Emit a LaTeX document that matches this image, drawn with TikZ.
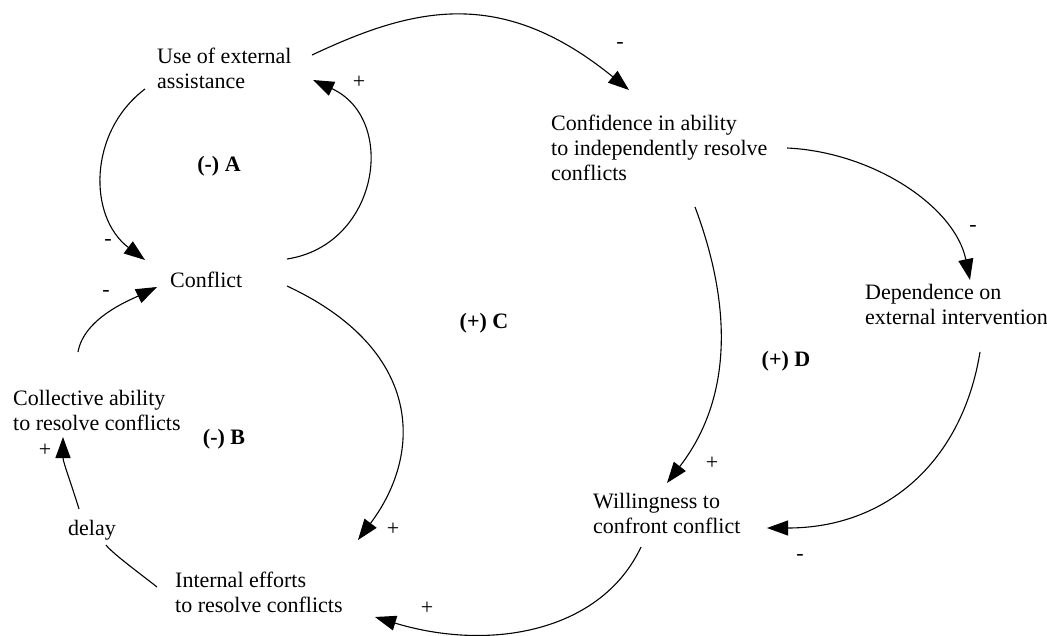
\documentclass[tikz,border=0pt]{standalone}
\usepackage{fontspec}
\setmainfont{Liberation Serif}
\usetikzlibrary{arrows.meta}
\tikzset{
    var/.style = {anchor=base west, align=left, inner sep=0pt, font=\fontsize{22}{25}\selectfont},
    sign/.style = {inner sep=0pt, font=\fontsize{22}{25}\selectfont},
    loopname/.style = {anchor=base, inner sep=0pt, font=\fontsize{22}{25}\selectfont\bfseries},
    link/.style = {-{Triangle[length=21pt, width=15pt]}, line width=1.1pt},
}

\begin{document}
\begin{tikzpicture}[x=1pt, y=-1pt]
    \useasboundingbox (0,0) rectangle (1047,635);

    \node[var] (use) at (157,88) {Use of external\\assistance};
    \node[var] (conflict) at (170,287) {Conflict};
    \node[var] (coll) at (13,430) {Collective ability\\to resolve conflicts};
    \node[var] (internal) at (175,612) {Internal efforts\\to resolve conflicts};
    \node[var] (delay) at (68,535) {delay};
    \node[var] (conf) at (551,180) {Confidence in ability\\to independently resolve\\conflicts};
    \node[var] (dep) at (865,324) {Dependence on\\external intervention};
    \node[var] (will) at (593,533) {Willingness to\\confront conflict};

    \node[loopname] (loopA) at (219,171) {(-) A};
    \node[loopname] (loopB) at (224,444) {(-) B};
    \node[loopname] (loopC) at (484,328) {(+) C};
    \node[loopname] (loopD) at (786,366) {(+) D};

    \draw[link] ([shift={(-12,1)}]use.base west) .. controls +(-57,43) and +(-57,-43) .. ([shift={(-25,-27)}]conflict.base west);
    \draw[link] ([shift={(117,-28)}]conflict.base west) .. controls +(92,-14) and +(85,39) .. ([shift={(156,-8)}]use.base west);
    \draw[link] ([shift={(155,-33)}]use.base west) .. controls +(100,-47) and +(-129,-105) .. ([shift={(78,-90)}]conf.base west);
    \draw[link] ([shift={(236,-32)}]conf.base west) .. controls +(86,4) and +(-15,-73.5) .. ([shift={(105,-44)}]dep.base west);
    \draw[link] ([shift={(144,27)}]conf.base west) .. controls +(35,93) and +(68,-88) .. ([shift={(74,-50)}]will.base west);
    \draw[link] ([shift={(115,28)}]dep.base west) .. controls +(-17.6,109) and +(120,0) .. ([shift={(174,-5)}]will.base west);
    \draw[link] ([shift={(48,14)}]will.base west) .. controls +(-40,85) and +(115,35) .. ([shift={(200,5)}]internal.base west);
    \draw[link] ([shift={(117,-1)}]conflict.base west) .. controls +(135,63) and +(66,-88) .. ([shift={(183,-72)}]internal.base west);
    \draw[line width=1.1pt] ([shift={(-18,-25)}]internal.base west) .. controls +(-15,-12) and +(7,9) .. ([shift={(38,10)}]delay.base west);
    \draw[link] ([shift={(11,-26)}]delay.base west) .. controls +(-6,-20) and +(0,25) .. ([shift={(50,7)}]coll.base west);
    \draw[link] ([shift={(65,-78)}]coll.base west) .. controls +(6,-34) and +(-27,13) .. ([shift={(-13,0)}]conflict.base west);

    \node[sign] (s1) at (359,82) {+};
    \node[sign] (s2) at (108,242) {-};
    \node[sign] (s3) at (106,293) {-};
    \node[sign] (s4) at (620,45) {-};
    \node[sign] (s5) at (973,228) {-};
    \node[sign] (s6) at (712,463) {+};
    \node[sign] (s7) at (800,557) {-};
    \node[sign] (s8) at (393,529) {+};
    \node[sign] (s9) at (427,608) {+};
    \node[sign] (s10) at (45,450) {+};
\end{tikzpicture}
\end{document}
